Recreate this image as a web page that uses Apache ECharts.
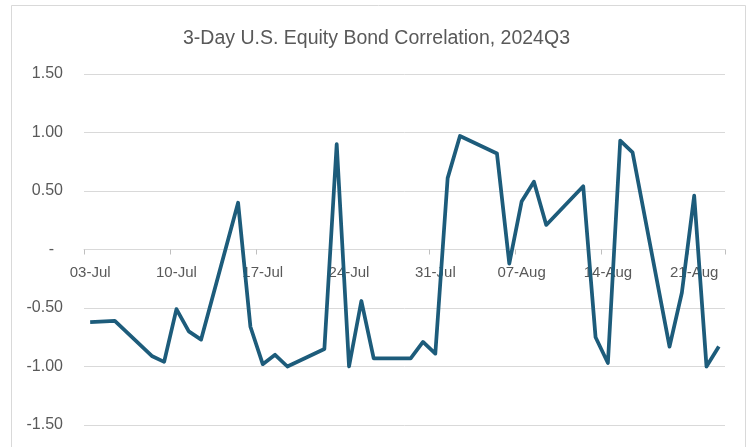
<!DOCTYPE html>
<html>
<head>
<meta charset="utf-8">
<script src="https://cdn.jsdelivr.net/npm/echarts@6/dist/echarts.min.js"></script>
<style>
  html, body { margin: 0; padding: 0; background: #ffffff; }
  #chart { width: 753px; height: 447px; }
</style>
</head>
<body>
<div id="chart"></div>
<script>
// Calendar days on the date axis (03-Jul .. 23-Aug 2024)
var days = [
  '03-Jul','04-Jul','05-Jul','06-Jul','07-Jul','08-Jul','09-Jul','10-Jul','11-Jul','12-Jul',
  '13-Jul','14-Jul','15-Jul','16-Jul','17-Jul','18-Jul','19-Jul','20-Jul','21-Jul','22-Jul',
  '23-Jul','24-Jul','25-Jul','26-Jul','27-Jul','28-Jul','29-Jul','30-Jul','31-Jul','01-Aug',
  '02-Aug','03-Aug','04-Aug','05-Aug','06-Aug','07-Aug','08-Aug','09-Aug','10-Aug','11-Aug',
  '12-Aug','13-Aug','14-Aug','15-Aug','16-Aug','17-Aug','18-Aug','19-Aug','20-Aug','21-Aug',
  '22-Aug','23-Aug'
];
// 3-day correlation (null = no trading day)
var correlation = [
  -0.62, null, -0.61, null, null, -0.91, -0.96, -0.51, -0.70, -0.77,
  null, null, 0.40, -0.66, -0.98, -0.90, -1.00, null, null, -0.85,
  0.90, -1.00, -0.44, -0.93, null, null, -0.93, -0.79, -0.89, 0.61,
  0.97, null, null, 0.82, -0.12, 0.41, 0.58, 0.21, null, null,
  0.54, -0.75, -0.97, 0.93, 0.83, null, null, -0.83, -0.37, 0.46,
  -1.00, -0.83
];
var yTicks = [-1.5, -1.0, -0.5, 0, 0.5, 1.0, 1.5];
var titleText = '3-Day U.S. Equity Bond Correlation, 2024Q3';

var FONT = '"Liberation Sans", Arial, sans-serif';
var GRID_TOP = 74, GRID_BOTTOM = 22, H = 447;
var yMin = yTicks[0], yMax = yTicks[yTicks.length - 1];
var plotH = H - GRID_TOP - GRID_BOTTOM;
// distance from grid bottom up to the zero line
var zeroOffset = plotH * (0 - yMin) / (yMax - yMin);

var chart = echarts.init(document.getElementById('chart'), null, { renderer: 'canvas' });
chart.setOption({
  backgroundColor: '#ffffff',
  animation: false,
  graphic: [{
    type: 'rect',
    left: 9, top: 3,
    shape: { width: 734, height: 460 },
    style: { fill: 'none', stroke: '#d9d9d9', lineWidth: 1 },
    silent: true
  }],
  title: {
    text: titleText,
    left: 'center',
    top: 24,
    textStyle: { fontFamily: FONT, fontSize: 19.5, fontWeight: 'normal', color: '#595959' }
  },
  grid: { left: 84, right: 28, top: GRID_TOP, bottom: GRID_BOTTOM, containLabel: false, outerBoundsMode: 'none' },
  xAxis: {
    type: 'category',
    data: days,
    boundaryGap: true,
    position: 'bottom',
    offset: -zeroOffset,
    axisLine: { onZero: false, lineStyle: { color: '#d9d9d9', width: 1 } },
    axisTick: { show: true, interval: 6, length: 5, lineStyle: { color: '#bfbfbf' } },
    axisLabel: {
      interval: 6, margin: 16,
      fontFamily: FONT, fontSize: 15, color: '#595959'
    },
    splitLine: { show: false }
  },
  yAxis: {
    type: 'value',
    min: yMin, max: yMax, interval: 0.5,
    axisLine: { show: false },
    axisTick: { show: false },
    axisLabel: {
      margin: 21,
      fontFamily: FONT, fontSize: 16, color: '#595959',
      formatter: function (v) { return Math.abs(v) < 1e-9 ? '-  ' : v.toFixed(2); }
    },
    splitLine: { lineStyle: { color: '#d9d9d9', width: 1 } }
  },
  series: [{
    type: 'line',
    data: correlation,
    connectNulls: true,
    showSymbol: false,
    symbol: 'none',
    lineStyle: { color: '#1d5c7b', width: 3.75, join: 'round' },
    itemStyle: { color: '#1d5c7b' }
  }]
});
</script>
</body>
</html>
